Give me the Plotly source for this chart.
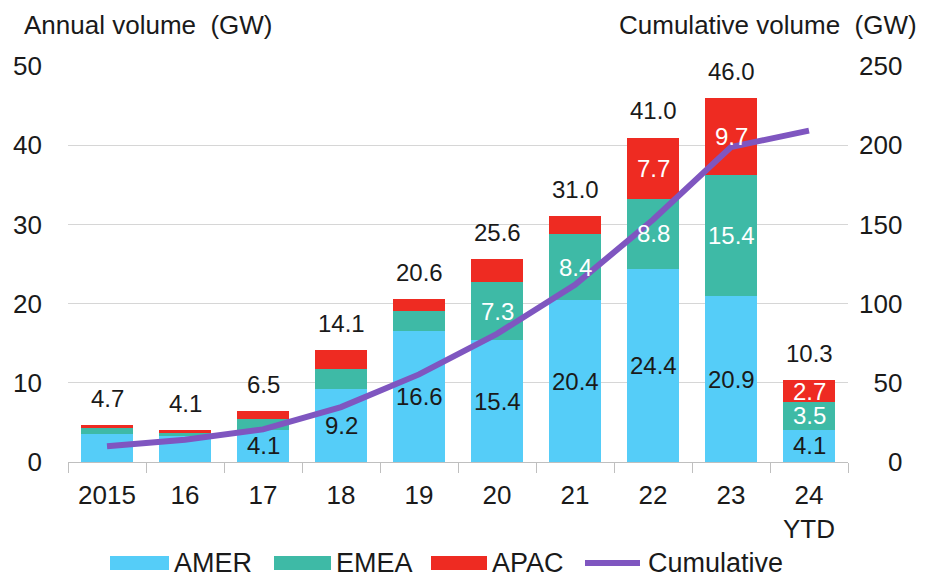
import plotly.graph_objects as go

# Annual installed volume by region (GW) and running cumulative total
years = ["2015", "16", "17", "18", "19", "20", "21", "22", "23", "24<br>YTD"]
amer = [3.5, 3.3, 4.1, 9.2, 16.6, 15.4, 20.4, 24.4, 20.9, 4.1]
emea = [0.8, 0.4, 1.3, 2.5, 2.5, 7.3, 8.4, 8.8, 15.4, 3.5]
apac = [0.4, 0.4, 1.1, 2.4, 1.5, 2.9, 2.2, 7.7, 9.7, 2.7]
totals = [4.7, 4.1, 6.5, 14.1, 20.6, 25.6, 31.0, 41.0, 46.0, 10.3]
cumulative = [10.0, 14.1, 20.6, 34.7, 55.3, 80.9, 111.9, 152.9, 198.9, 209.2]

# which segment values get an in-bar label
amer_lbl = [False, False, True, True, True, True, True, True, True, True]
emea_lbl = [False, False, False, False, False, True, True, True, True, True]
apac_lbl = [False, False, False, False, False, False, False, True, True, True]

left_ticks = [0, 10, 20, 30, 40, 50]
right_ticks = [0, 50, 100, 150, 200, 250]

C_AMER = "#55CDF8"
C_EMEA = "#3EBAA6"
C_APAC = "#EE2B22"
C_CUM = "#7F56C0"
FONT = "Liberation Sans, Arial, sans-serif"

fig = go.Figure()
for name, vals, col in [("AMER", amer, C_AMER), ("EMEA", emea, C_EMEA), ("APAC", apac, C_APAC)]:
    fig.add_trace(go.Bar(
        x=years, y=vals, name=name, marker=dict(color=col, line=dict(width=0)),
        hoverinfo="skip", showlegend=False,
    ))

fig.add_trace(go.Scatter(
    x=years, y=cumulative, mode="lines", name="Cumulative", yaxis="y2",
    line=dict(color=C_CUM, width=6), showlegend=False, hoverinfo="skip",
))

fig.update_layout(
    width=925, height=579,
    margin=dict(l=68, r=77, t=66, b=117),
    paper_bgcolor="white", plot_bgcolor="white",
    barmode="stack", bargap=0.33,
    font=dict(family=FONT, size=26, color="#1a1a1a"),
    xaxis=dict(
        type="category", categoryorder="array", categoryarray=years,
        range=[-0.5, len(years) - 0.5],
        showgrid=False, showline=True, linecolor="#bfbfbf", linewidth=1,
        ticks="outside", tickson="boundaries", ticklen=10, tickcolor="#bfbfbf",
        tickfont=dict(size=26), ticklabelstandoff=10,
    ),
    yaxis=dict(
        range=[0, 50], tickvals=left_ticks, showgrid=True, gridcolor="#d6d6d6",
        gridwidth=1, zeroline=False, showline=False, ticks="",
        ticklabelstandoff=25, tickfont=dict(size=26),
    ),
    yaxis2=dict(
        range=[0, 250], overlaying="y", side="right", showgrid=False,
        zeroline=False, showline=False, ticks="",
        tickvals=right_ticks,
        ticktext=[("\u2007" * (3 - len(str(v)))) + str(v) for v in right_ticks],
        ticklabelstandoff=10, tickfont=dict(size=26),
    ),
)

# segment value labels, centred in each stacked piece (drawn above the line);
# x is the category index on the category axis
stack_base = [0.0] * len(years)
for vals, show, tcol in [(amer, amer_lbl, "#1a1a1a"), (emea, emea_lbl, "white"), (apac, apac_lbl, "white")]:
    for i, (v, s) in enumerate(zip(vals, show)):
        if s:
            fig.add_annotation(x=i, y=stack_base[i] + v / 2, xref="x", yref="y",
                               text=f"{v:.1f}", showarrow=False, yanchor="middle",
                               font=dict(size=24, color=tcol))
        stack_base[i] += v

# stack totals above each bar
for i, t in enumerate(totals):
    fig.add_annotation(x=i, y=t, xref="x", yref="y", text=f"{t:.1f}", showarrow=False,
                       yanchor="bottom", yshift=11, font=dict(size=24, color="#1a1a1a"))


def px_x(px):
    return (px - 68) / 780


def px_y(py):
    return (462 - py) / 396


fig.add_annotation(text="Annual volume  (GW)", x=px_x(22), y=px_y(25), xref="paper", yref="paper",
                   xanchor="left", yanchor="middle", showarrow=False, font=dict(size=26))
fig.add_annotation(text="Cumulative volume  (GW)", x=px_x(919), y=px_y(25), xref="paper", yref="paper",
                   xanchor="right", yanchor="middle", showarrow=False, font=dict(size=26))

# legend row
legend_items = [
    ("AMER", C_AMER, "rect", 110, 169),
    ("EMEA", C_EMEA, "rect", 274, 331),
    ("APAC", C_APAC, "rect", 431, 487),
    ("Cumulative", C_CUM, "line", 582, 643),
]
ly = 563
for name, col, kind, x0, x1 in legend_items:
    if kind == "rect":
        fig.add_shape(type="rect", xref="paper", yref="paper",
                      x0=px_x(x0), x1=px_x(x1), y0=px_y(ly + 7), y1=px_y(ly - 7),
                      fillcolor=col, line=dict(width=0))
    else:
        fig.add_shape(type="line", xref="paper", yref="paper",
                      x0=px_x(x0 + 3), x1=px_x(x1 - 3), y0=px_y(ly), y1=px_y(ly),
                      line=dict(color=col, width=6))
    fig.add_annotation(text=name, x=px_x(x1 + 3), y=px_y(ly), xref="paper", yref="paper",
                       xanchor="left", yanchor="middle", showarrow=False, font=dict(size=27))

fig.write_html("out.html")
